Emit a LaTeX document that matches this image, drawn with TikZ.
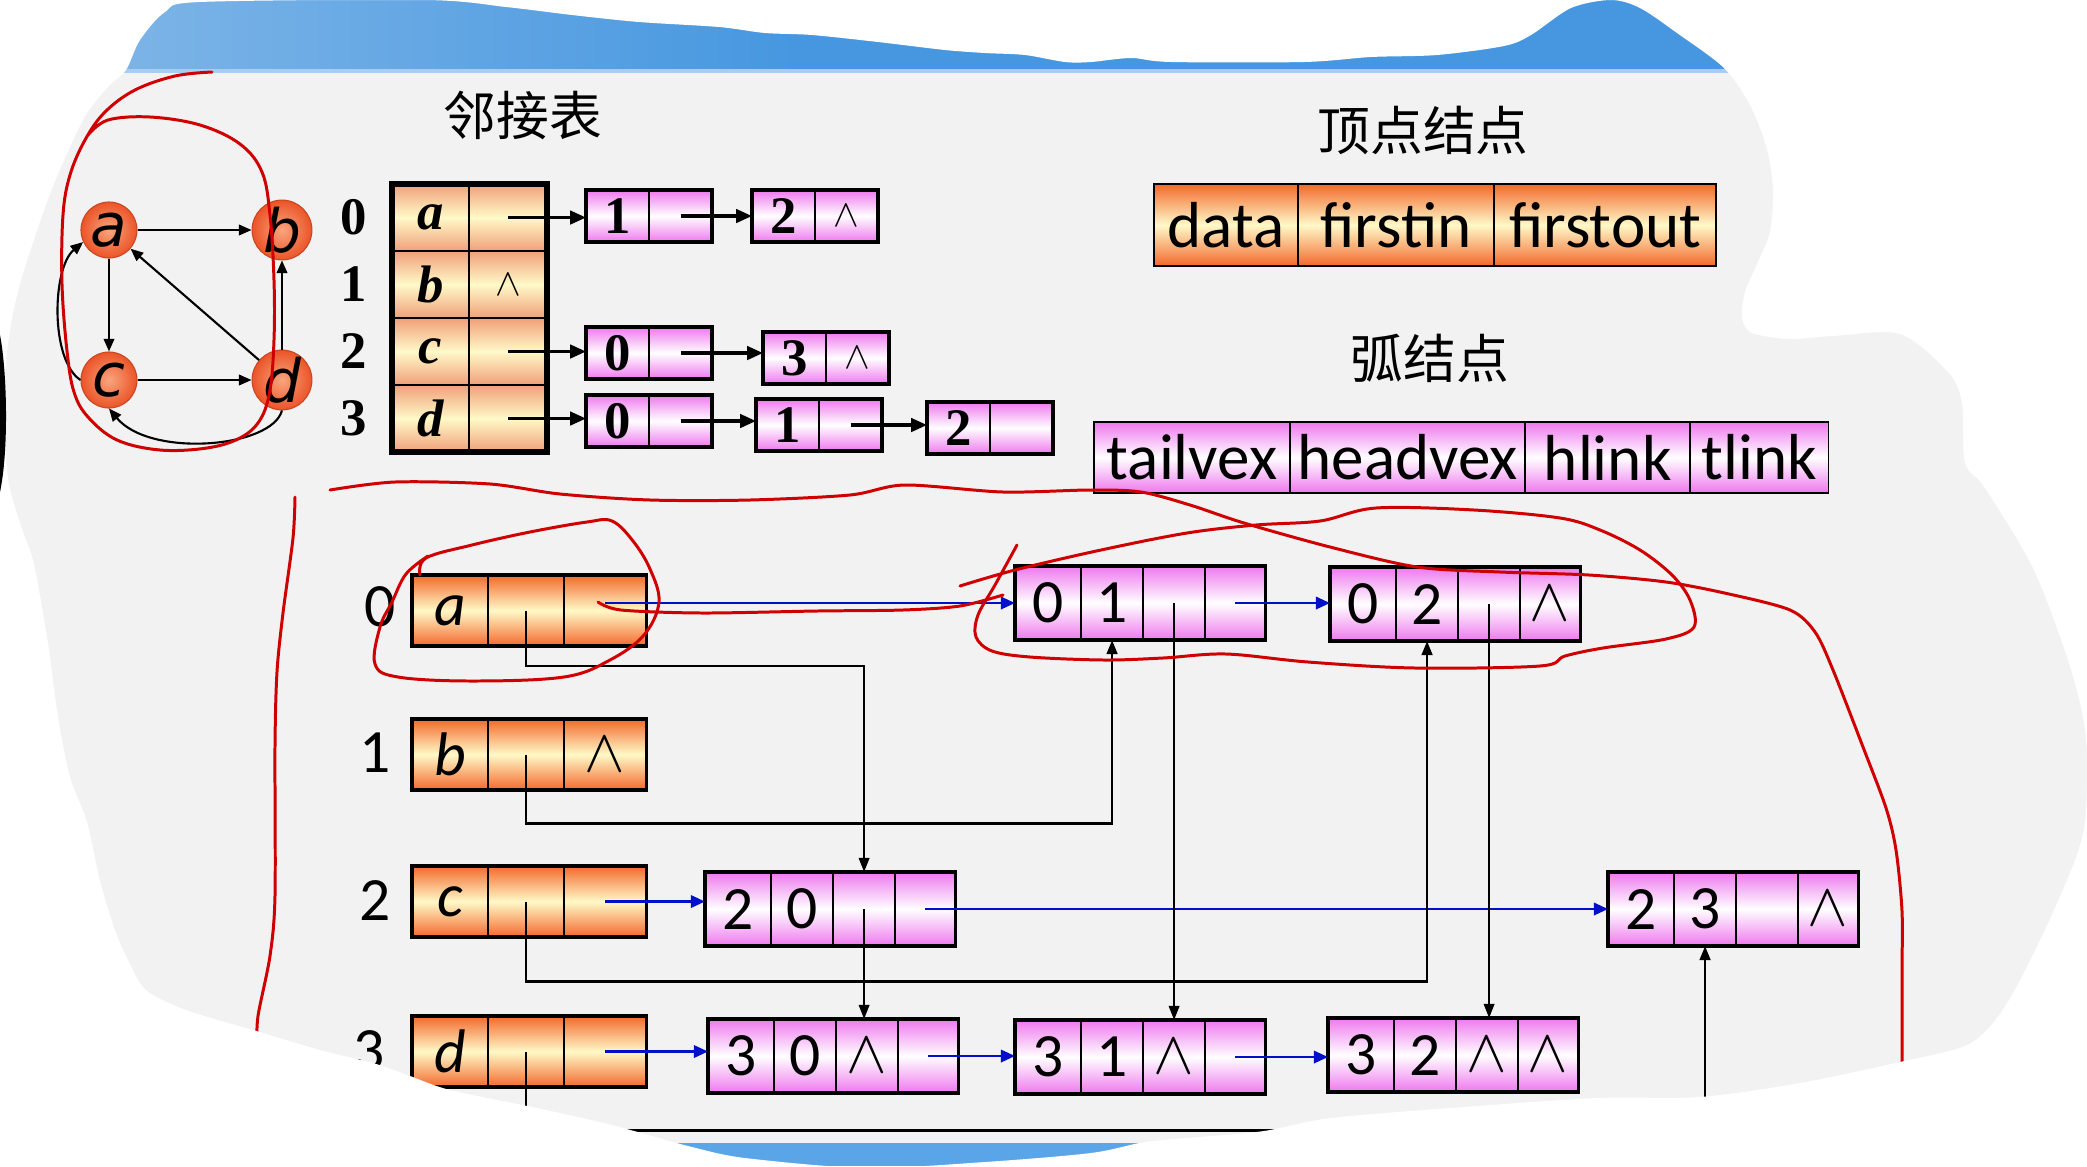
\documentclass[tikz,border=0pt]{standalone}
\usepackage{fontspec}
\setmainfont{Carlito}
\newfontfamily\cjkfont{Noto Sans CJK SC}
\newfontfamily\timesfont{Liberation Serif}
\newfontfamily\dejafont{DejaVu Sans}
\usepackage{tikz}
\usetikzlibrary{arrows.meta}
\definecolor{slidegray}{HTML}{F2F2F2}
\definecolor{hdrblue}{HTML}{4697E0}
\definecolor{hdrlight}{HTML}{86B9E8}
\definecolor{hdrline}{HTML}{A9CDF0}
\definecolor{footblue}{HTML}{5AA5E8}
\definecolor{vorange}{HTML}{F3682C}
\definecolor{vyellow}{HTML}{FFF9C8}
\definecolor{salmon}{HTML}{F0A07A}
\definecolor{arcpink}{HTML}{EE78EE}
\definecolor{ballred}{HTML}{EB5428}
\definecolor{balllight}{HTML}{F9A57E}
\definecolor{penred}{HTML}{D00000}
\definecolor{linkblue}{HTML}{0010C8}
\newcommand{\fieldfont}{\fontsize{18.5}{20}\selectfont}
\newcommand{\lowfont}{\fontsize{17.5}{20}\selectfont}
\newcommand{\upfont}{\timesfont\bfseries\fontsize{15}{17}\selectfont}
\newcommand{\graphfont}{\dejafont\itshape\fontsize{17}{18}\selectfont}
\newcommand{\titlefont}{\cjkfont\fontsize{15}{17}\selectfont}
\newcommand{\nullp}{\ensuremath{\wedge}}
\newcommand{\smallnull}{{\fontsize{11}{11}\selectfont\raisebox{-0.4ex}{\nullp}}}
% vertex node: data | firstin | firstout
\newcommand{\vexnode}[5]{%
  \node[vcell,minimum width=0.76cm] (#1-d) at (#2,#3) {\textit{#4}};
  \node[vcell,minimum width=0.76cm] (#1-i) at (#1-d.north east) {};
  \node[vcell,minimum width=0.82cm] (#1-o) at (#1-i.north east) {#5};
  \draw[line width=0.9pt] (#1-d.north west) rectangle (#1-o.south east);
}
% arc node: tailvex | headvex | hlink | tlink
\newcommand{\arcnode}[7]{%
  \node[acell,minimum width=0.66cm] (#1-t) at (#2,#3) {#4};
  \node[acell,minimum width=0.62cm] (#1-h) at (#1-t.north east) {#5};
  \node[acell,minimum width=0.62cm] (#1-hl) at (#1-h.north east) {#6};
  \node[acell,minimum width=0.60cm] (#1-tl) at (#1-hl.north east) {#7};
  \draw[line width=0.9pt] (#1-t.north west) rectangle (#1-tl.south east);
}
% adjacency list node: adjvex | next
\newcommand{\listnode}[5]{%
  \node[lcell] (#1-v) at (#2,#3) {#4};
  \node[lcell] (#1-p) at (#1-v.north east) {#5};
  \draw[line width=1.2pt] (#1-v.north west) rectangle (#1-p.south east);
}
% one row of the head table
\newcommand{\tabrow}[4]{%
  \node[tcell,minimum width=0.77cm] (#1-v) at (392,#2) {\textit{#3}};
  \node[tcell,minimum width=0.78cm] (#1-p) at (#1-v.north east) {#4};
}

\begin{document}
\begin{tikzpicture}[x=0.01cm,y=-0.01cm,
  gnode/.style={circle,minimum size=0.56cm,inner sep=0pt,draw=ballred!85!black,line width=0.3pt,
    inner color=balllight,outer color=ballred,font=\graphfont},
  gedge/.style={line width=0.6pt,-{Triangle[length=3.6pt,width=3pt]}},
  tcell/.style={draw,line width=0.5pt,top color=salmon,bottom color=salmon,middle color=vyellow,
    minimum height=0.67cm,inner sep=0pt,outer sep=0pt,anchor=north west,font=\upfont},
  lcell/.style={draw,line width=0.5pt,top color=arcpink,bottom color=arcpink,middle color=white,
    minimum width=0.63cm,minimum height=0.52cm,inner sep=0pt,outer sep=0pt,anchor=north west,font=\upfont},
  lptr/.style={line width=0.9pt,-{Triangle[length=4.5pt,width=3.8pt]}},
  fcell/.style={draw,line width=0.5pt,top color=vorange,bottom color=vorange,middle color=vyellow,
    minimum height=0.82cm,inner sep=0pt,outer sep=0pt,anchor=north west,font=\fieldfont},
  pcell/.style={draw,line width=0.5pt,top color=arcpink,bottom color=arcpink,middle color=white,
    minimum height=0.71cm,inner sep=0pt,outer sep=0pt,anchor=north west,font=\fieldfont},
  vcell/.style={draw,line width=0.5pt,top color=vorange,bottom color=vorange,middle color=vyellow,
    minimum height=0.71cm,inner sep=0pt,outer sep=0pt,anchor=north west,font=\lowfont},
  acell/.style={draw,line width=0.5pt,top color=arcpink,bottom color=arcpink,middle color=white,
    minimum height=0.74cm,inner sep=0pt,outer sep=0pt,anchor=north west,font=\lowfont},
  outarrow/.style={draw=linkblue,line width=0.7pt,-{Triangle[length=4pt,width=3.5pt]},linkblue},
  inarrow/.style={line width=0.55pt,-{Triangle[length=4pt,width=3pt]}},
  idx/.style={font=\lowfont,inner sep=0pt},
  upidx/.style={font=\upfont,inner sep=0pt},
  cjktitle/.style={font=\titlefont,inner sep=0pt},
  redpen/.style={draw=penred,line width=0.85pt,line cap=round,line join=round}]
  \useasboundingbox (0,0) rectangle (2087,1166);
  % slide background
  \fill[slidegray] (0,0) rectangle (2087,1166);
  \fill[hdrblue] (0,0) rectangle (2087,70);
  \shade[left color=hdrlight,right color=hdrblue] (0,0) rectangle (800,70);
  \fill[hdrline] (0,69) rectangle (2087,73);
  \fill[footblue] (0,1143) rectangle (2087,1166);

  % the graph
  \node[gnode] (a) at (109,230) {a};
  \node[gnode] (b) at (282,230) {b};
  \node[gnode] (c) at (109,380) {c};
  \node[gnode] (d) at (282,380) {d};
  \draw[gedge] (a) -- (b);
  \draw[gedge] (a) -- (c);
  \draw[gedge] (d) -- (a);
  \draw[gedge] (d) -- (b);
  \draw[gedge] (c) -- (d);
  \draw[gedge] (c.west) .. controls (50,360) and (52,268) .. (a.205);
  \draw[gedge] (d.south) .. controls (272,448) and (150,458) .. (c.south);

  % adjacency list
  \node[cjktitle] (t-adj) at (523,115) {邻接表};
  \foreach \i/\y in {0/217,1/284,2/351,3/418} { \node[upidx] (u\i) at (354,\y) {\i}; }
  \tabrow{t0}{184}{a}{}
  \tabrow{t1}{251}{b}{\smallnull}
  \tabrow{t2}{318}{c}{}
  \tabrow{t3}{385}{d}{}
  \draw[line width=1.5pt] (t0-v.north west) rectangle (t3-p.south east);
  \listnode{n01}{586}{190}{1}{}
  \listnode{n02}{752}{190}{2}{\smallnull}
  \listnode{n21}{586}{327}{0}{}
  \listnode{n22}{763}{332}{3}{\smallnull}
  \listnode{n31}{586}{395}{0}{}
  \listnode{n32}{756}{399}{1}{}
  \listnode{n33}{927}{402}{2}{}
  \draw[lptr] (t0-p.center) -- (t0-p.center -| n01-v.west);
  \draw[lptr] (n01-p.center) -- (n01-p.center -| n02-v.west);
  \draw[lptr] (t2-p.center) -- (t2-p.center -| n21-v.west);
  \draw[lptr] (n21-p.center) -- (n21-p.center -| n22-v.west);
  \draw[lptr] (t3-p.center) -- (t3-p.center -| n31-v.west);
  \draw[lptr] (n31-p.center) -- (n31-p.center -| n32-v.west);
  \draw[lptr] (n32-p.center) -- (n32-p.center -| n33-v.west);

  % node layouts
  \node[cjktitle] (t-vex) at (1423,130) {顶点结点};
  \node[fcell,minimum width=1.44cm] (f-data) at (1154,184) {data};
  \node[fcell,minimum width=1.96cm] (f-in) at (f-data.north east) {firstin};
  \node[fcell,minimum width=2.22cm] (f-out) at (f-in.north east) {firstout};
  \node[cjktitle] (t-arc) at (1430,358) {弧结点};
  \node[pcell,minimum width=1.96cm] (p-tail) at (1094,422) {tailvex};
  \node[pcell,minimum width=2.35cm] (p-head) at (p-tail.north east) {headvex};
  \node[pcell,minimum width=1.65cm] (p-hl) at (p-head.north east) {hlink};
  \node[pcell,minimum width=1.38cm] (p-tl) at (p-hl.north east) {tlink};

  % orthogonal list
  \foreach \i/\x/\y in {0/380/607,1/375/753,2/375/901,3/369/1051} { \node[idx] (l\i) at (\x,\y) {\i}; }
  \vexnode{va}{412}{575}{a}{}
  \vexnode{vb}{412}{719}{b}{\nullp}
  \vexnode{vc}{412}{866}{c}{}
  \vexnode{vd}{412}{1016}{d}{}
  \arcnode{A01}{1015}{566}{0}{1}{}{}
  \arcnode{A02}{1330}{567}{0}{2}{}{\nullp}
  \arcnode{A20}{705}{872}{2}{0}{}{}
  \arcnode{A23}{1608}{872}{2}{3}{}{\nullp}
  \arcnode{A30}{708}{1019}{3}{0}{\nullp}{}
  \arcnode{A31}{1015}{1020}{3}{1}{\nullp}{}
  \arcnode{A32}{1328}{1018}{3}{2}{\nullp}{\nullp}
  % out-arcs (blue)
  \draw[outarrow] (va-o.center |- A01-t.west) -- (A01-t.west);
  \draw[outarrow] (A01-tl.center) -- (A01-tl.center -| A02-t.west);
  \draw[outarrow] (vc-o.center) -- (vc-o.center -| A20-t.west);
  \draw[outarrow] (A20-tl.center) -- (A20-tl.center -| A23-t.west);
  \draw[outarrow] (vd-o.center) -- (vd-o.center -| A30-t.west);
  \draw[outarrow] (A30-tl.center) -- (A30-tl.center -| A31-t.west);
  \draw[outarrow] (A31-tl.center) -- (A31-tl.center -| A32-t.west);
  % in-arcs (black)
  \draw[inarrow] (va-i.center) -- ++(0,55) -| (A20-hl.north);
  \draw[inarrow] (A20-hl.center) -- (A20-hl.center |- A30-hl.north);
  \draw[inarrow,line width=0.8pt] (vb-i.center) -- ++(0,69) -| (A01-h.south);
  \draw[inarrow] (A01-hl.center) -- (A01-hl.center |- A31-hl.north);
  \draw[inarrow,line width=0.8pt] (vc-i.center) -- ++(0,80) -| (A02-h.south);
  \draw[inarrow] (A02-hl.center) -- (A02-hl.center |- A32-hl.north);
  \draw[inarrow,line width=0.8pt] (vd-i.center) -- ++(0,79) -| (A23-h.south);

  % red pen marks
  \draw[redpen] plot[smooth,tension=0.6] coordinates {(212,72) (175,76) (135,90) (105,112) (85,140) (70,175) (63,215) (62,284) (67,351) (74,392) (88,417) (117,440) (160,450) (207,448) (240,438) (260,420) (270,390) (274,340) (274,280) (270,215) (262,172) (240,144) (200,125) (150,117) (108,120) (88,135)};
  \draw[redpen] plot[smooth] coordinates {(295,497) (293,538) (283,613) (277,672) (275,747) (275,896) (270,956) (258,1016) (257,1045)};
  \draw[redpen] plot[smooth,tension=0.5] coordinates {(330,490) (395,482) (490,484) (560,494) (650,500) (750,500) (850,495) (905,485) (1003,492) (1090,490) (1141,492) (1190,505) (1244,523) (1330,547) (1417,567) (1500,572) (1589,575) (1666,582) (1729,594) (1790,610) (1815,632) (1833,670) (1863,747) (1886,808) (1896,850) (1902,911) (1902,973) (1902,1064)};
  \draw[redpen] plot[smooth,tension=0.6] coordinates {(420,575) (426,558) (472,545) (530,532) (587,522) (612,521) (633,541) (650,569) (659,602) (644,635) (610,660) (564,677) (472,681) (398,677) (375,664) (380,627) (392,602) (406,574) (428,556)};
  \draw[redpen] plot[smooth] coordinates {(598,602) (621,610) (702,613) (817,611) (903,610) (960,606) (1003,595)};
  \draw[redpen] plot[smooth,tension=0.55] coordinates {(1017,545) (995,585) (978,615) (976,637) (992,651) (1030,657) (1104,660) (1163,658) (1226,654) (1308,662) (1415,668) (1540,666) (1565,656) (1603,648) (1666,639) (1694,627) (1690,600) (1672,575) (1640,550) (1600,530) (1560,518) (1474,510) (1376,508) (1320,521) (1256,525) (1187,533) (1101,550) (1015,570) (960,586)};

  % torn edges of the screenshot
  \fill[white,even odd rule] (0,0) rectangle (2087,1166) plot[smooth cycle,tension=0.5] coordinates {(126,70) (140,40) (165,12) (200,2) (426,0) (506,7) (572,15) (639,22) (719,27) (765,33) (812,35) (878,42) (945,50) (985,53) (1025,55) (1065,62) (1091,62) (1131,58) (1171,62) (1304,62) (1371,57) (1437,55) (1504,46) (1531,35) (1571,8) (1611,0) (1640,8) (1677,33) (1724,68) (1750,105) (1767,149) (1773,190) (1770,232) (1758,262) (1745,292) (1742,318) (1752,333) (1790,339) (1833,336) (1900,334) (1948,372) (1962,403) (1965,463) (1985,488) (2033,568) (2067,657) (2083,717) (2087,760) (2085,822) (2075,860) (2050,919) (2017,986) (1993,1023) (1965,1046) (1900,1062) (1800,1083) (1700,1097) (1597,1098) (1464,1107) (1331,1118) (1264,1131) (1200,1137) (1145,1142) (1091,1153) (985,1162) (865,1168) (745,1158) (692,1147) (645,1134) (600,1122) (532,1107) (450,1090) (410,1076) (373,1063) (320,1050) (253,1030) (186,1010) (146,990) (128,960) (115,930) (100,881) (87,822) (70,777) (58,717) (50,657) (43,613) (33,560) (20,523) (8,478) (4,403) (8,344) (20,284) (50,194) (83,120) (108,87)};
  \fill[black] (0,335) .. controls (7,370) and (9,450) .. (0,492) -- cycle;
\end{tikzpicture}
\end{document}
